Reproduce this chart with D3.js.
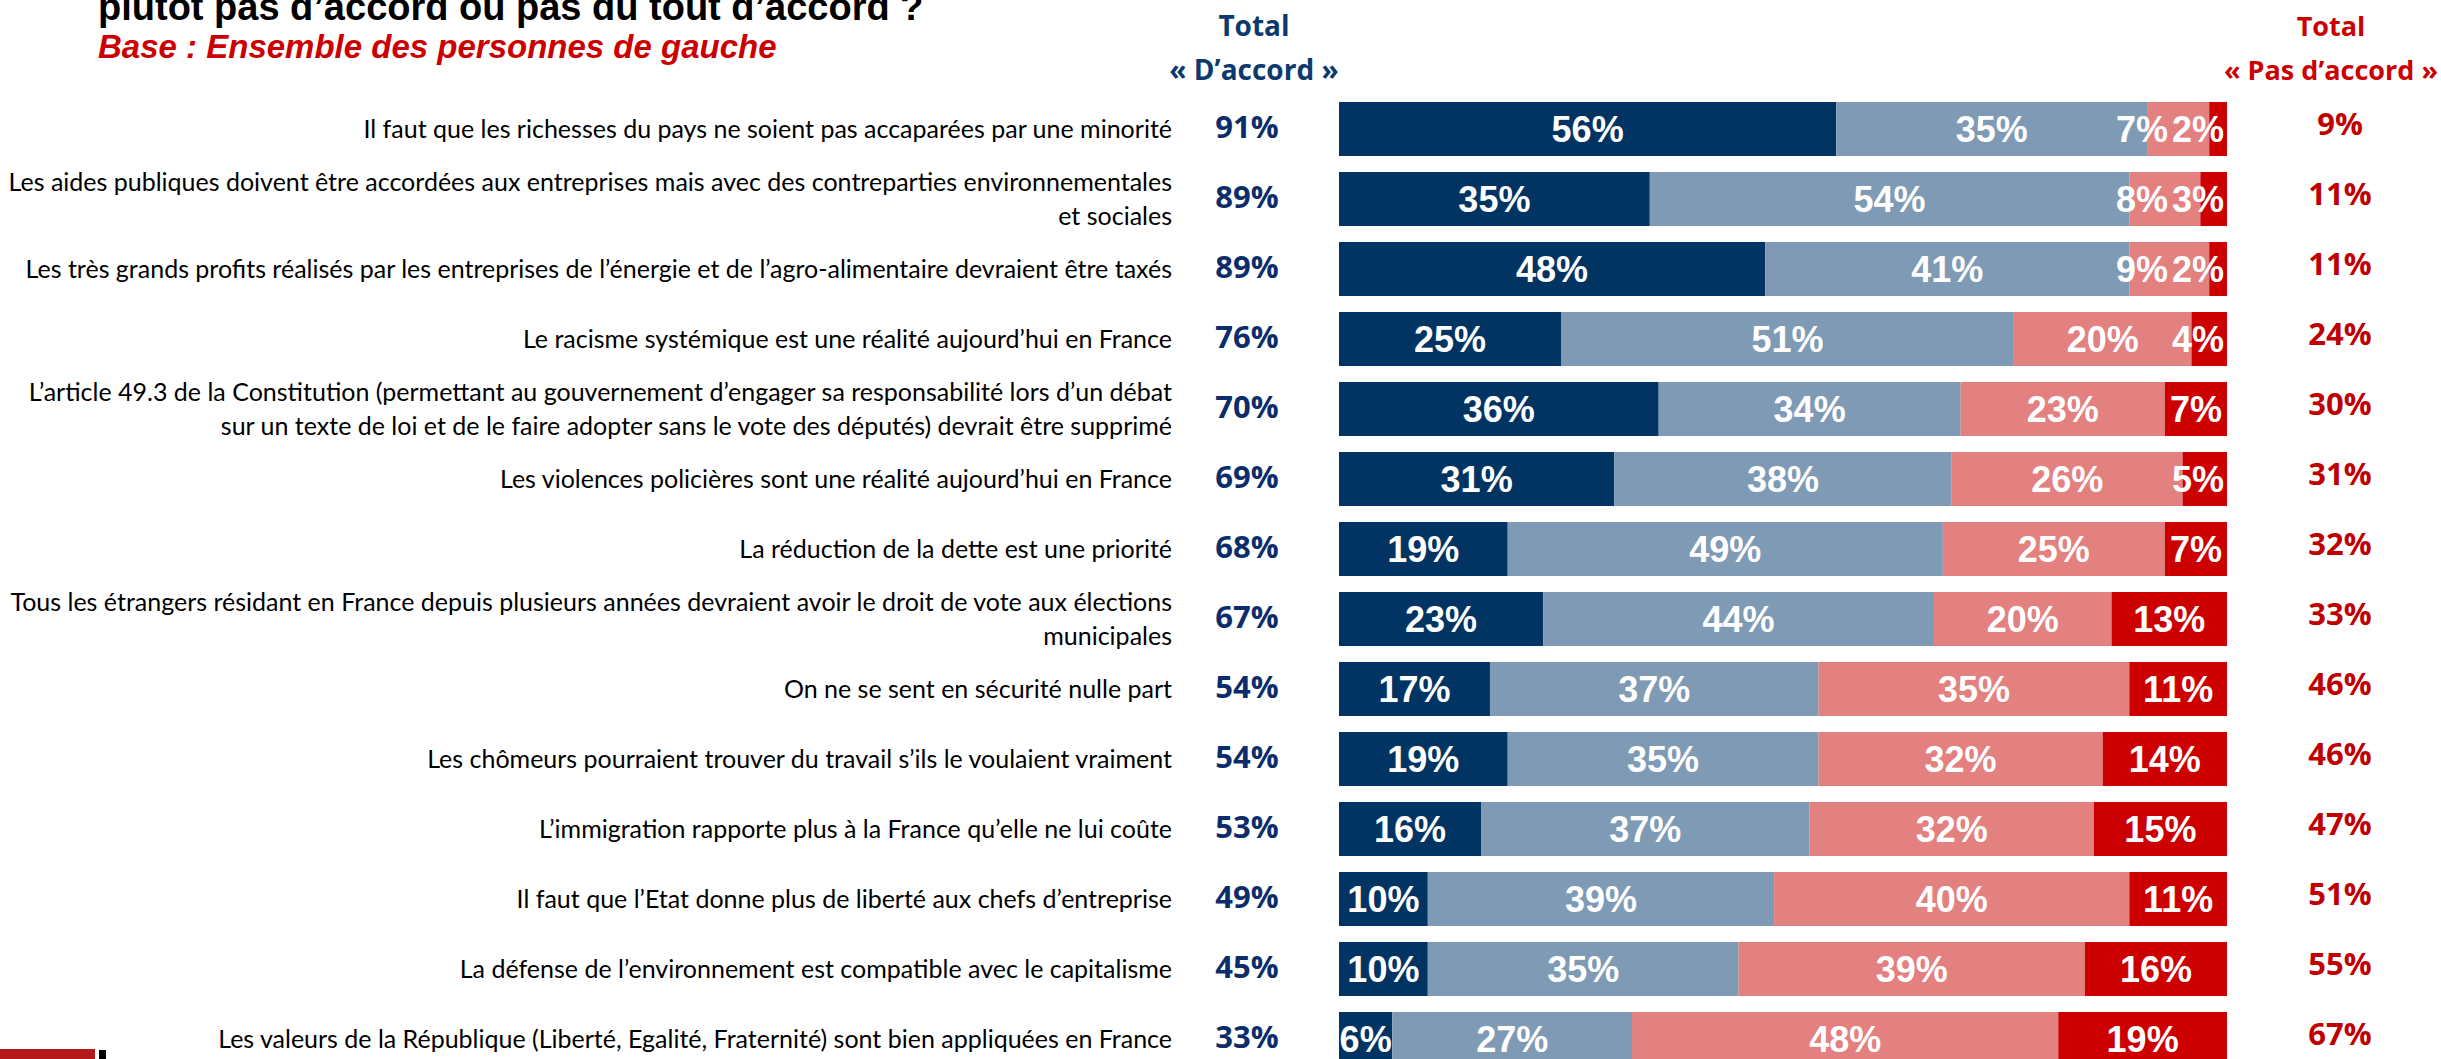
<!DOCTYPE html>
<html>
<head>
<meta charset="utf-8">
<script src="https://cdn.jsdelivr.net/npm/d3@7"></script>
<style>
  html, body { margin: 0; padding: 0; background: #ffffff; overflow: hidden; }
  svg { display: block; }
</style>
</head>
<body>
<svg id="chart" width="2441" height="1059"></svg>
<script>
// ---------- DATA ----------
const titleLine = "plutot pas d’accord ou pas du tout d’accord ?";
const baseLine = "Base : Ensemble des personnes de gauche";

const items = [
  ["Il faut que les richesses du pays ne soient pas accaparées par une minorité"],
  ["Les aides publiques doivent être accordées aux entreprises mais avec des contreparties environnementales", "et sociales"],
  ["Les très grands profits réalisés par les entreprises de l’énergie et de l’agro-alimentaire devraient être taxés"],
  ["Le racisme systémique est une réalité aujourd’hui en France"],
  ["L’article 49.3 de la Constitution (permettant au gouvernement d’engager sa responsabilité lors d’un débat", "sur un texte de loi et de le faire adopter sans le vote des députés) devrait être supprimé"],
  ["Les violences policières sont une réalité aujourd’hui en France"],
  ["La réduction de la dette est une priorité"],
  ["Tous les étrangers résidant en France depuis plusieurs années devraient avoir le droit de vote aux élections", "municipales"],
  ["On ne se sent en sécurité nulle part"],
  ["Les chômeurs pourraient trouver du travail s’ils le voulaient vraiment"],
  ["L’immigration rapporte plus à la France qu’elle ne lui coûte"],
  ["Il faut que l’Etat donne plus de liberté aux chefs d’entreprise"],
  ["La défense de l’environnement est compatible avec le capitalisme"],
  ["Les valeurs de la République (Liberté, Egalité, Fraternité) sont bien appliquées en France"]
];

const toutAFait   = [56, 35, 48, 25, 36, 31, 19, 23, 17, 19, 16, 10, 10, 6];
const plutotOui   = [35, 54, 41, 51, 34, 38, 49, 44, 37, 35, 37, 39, 35, 27];
const plutotPas   = [7, 8, 9, 20, 23, 26, 25, 20, 35, 32, 32, 40, 39, 48];
const pasDuTout   = [2, 3, 2, 4, 7, 5, 7, 13, 11, 14, 15, 11, 16, 19];
const totalAccord = [91, 89, 89, 76, 70, 69, 68, 67, 54, 54, 53, 49, 45, 33];
const totalPas    = [9, 11, 11, 24, 30, 31, 32, 33, 46, 46, 47, 51, 55, 67];

const seriesKeys = ["toutAFait", "plutotOui", "plutotPas", "pasDuTout"];
const seriesColors = ["#023463", "#7F9AB4", "#E38080", "#CC0000"];
const headerAccord = ["Total", "« D’accord »"];
const headerPas = ["Total", "« Pas d’accord »"];

// ---------- BUILD ----------
const rows = items.map((lines, i) => ({
  i, lines,
  toutAFait: toutAFait[i], plutotOui: plutotOui[i], plutotPas: plutotPas[i], pasDuTout: pasDuTout[i],
  tA: totalAccord[i], tP: totalPas[i]
}));

const svg = d3.select("#chart");

const x = d3.scaleLinear().domain([0, 100]).range([1339, 2227]);
const y = d3.scaleBand().domain(d3.range(rows.length)).range([102, 1066]).paddingInner(16 / 70).paddingOuter(0);
const color = d3.scaleOrdinal().domain(seriesKeys).range(seriesColors);

const stacked = d3.stack().keys(seriesKeys)(rows);

const arialFont = "'Liberation Sans', Arial, sans-serif";
const boldFont = "'Open Sans', 'Noto Sans', sans-serif";
const lblFont = "Lato, 'Open Sans', sans-serif";

// Title lines (top cut off like the reference)
svg.append("text")
  .attr("x", 98).attr("y", 20)
  .attr("font-family", arialFont)
  .attr("font-weight", "bold").attr("font-size", 38)
  .attr("fill", "#000").text(titleLine);

svg.append("text")
  .attr("x", 98).attr("y", 58)
  .attr("font-family", arialFont)
  .attr("font-weight", "bold").attr("font-style", "italic").attr("font-size", 33)
  .attr("fill", "#CC0000").text(baseLine);

// Headers
svg.append("g").selectAll("text").data(headerAccord).join("text")
  .attr("x", 1254).attr("y", (d, k) => 36 + k * 44)
  .attr("text-anchor", "middle")
  .attr("font-family", boldFont).attr("font-weight", "bold").attr("font-size", 28)
  .attr("fill", "#0B3A6E").text(d => d);

svg.append("g").selectAll("text").data(headerPas).join("text")
  .attr("x", 2331).attr("y", (d, k) => 36 + k * 44)
  .attr("text-anchor", "middle")
  .attr("font-family", boldFont).attr("font-weight", "bold").attr("font-size", 27)
  .attr("fill", "#CC0000").text(d => d);

// Bars
svg.append("g").selectAll("g").data(stacked).join("g")
  .attr("fill", d => color(d.key))
  .selectAll("rect").data(d => d).join("rect")
  .attr("x", d => x(d[0]))
  .attr("width", d => x(d[1]) - x(d[0]))
  .attr("y", (d, k) => y(k))
  .attr("height", y.bandwidth());

// Bar value labels with overlap avoidance at the right end
const gVals = svg.append("g")
  .attr("font-family", arialFont)
  .attr("font-weight", "bold").attr("font-size", 36).attr("fill", "#fff");

rows.forEach((r, k) => {
  const cy = y(k) + y.bandwidth() / 2;
  const labs = stacked.map(s => {
    const seg = s[k];
    const t = gVals.append("text")
      .attr("text-anchor", "middle")
      .attr("y", cy).attr("dy", "0.36em")
      .text(r[s.key] + "%");
    const w = t.node().getComputedTextLength();
    return { t, w, cx: (x(seg[0]) + x(seg[1])) / 2 };
  });
  const right = x(100) - 3;
  const last = labs[labs.length - 1];
  if (last.cx + last.w / 2 > right) last.cx = right - last.w / 2;
  for (let j = labs.length - 2; j >= 0; j--) {
    const a = labs[j], b = labs[j + 1];
    const bLeft = b.cx - b.w / 2 - 4;
    if (a.cx + a.w / 2 > bLeft) a.cx = bLeft - a.w / 2;
  }
  labs.forEach(l => l.t.attr("x", l.cx));
});

// Item labels
const gLbl = svg.append("g")
  .attr("font-family", lblFont).attr("font-size", 25).attr("fill", "#000");
rows.forEach((r, k) => {
  const cy = y(k) + y.bandwidth() / 2;
  const lh = 34;
  const n = r.lines.length;
  r.lines.forEach((line, j) => {
    gLbl.append("text")
      .attr("x", 1172).attr("text-anchor", "end")
      .attr("y", cy + (j - (n - 1) / 2) * lh).attr("dy", "0.35em")
      .text(line);
  });
});

// Totals
svg.append("g").selectAll("text").data(rows).join("text")
  .attr("x", 1247).attr("text-anchor", "middle")
  .attr("y", d => y(d.i) + y.bandwidth() / 2 - 2).attr("dy", "0.36em")
  .attr("font-family", boldFont).attr("font-weight", "bold").attr("font-size", 31)
  .attr("fill", "#0B2D6C").text(d => d.tA + "%");

svg.append("g").selectAll("text").data(rows).join("text")
  .attr("x", 2340).attr("text-anchor", "middle")
  .attr("y", d => y(d.i) + y.bandwidth() / 2 - 5).attr("dy", "0.36em")
  .attr("font-family", boldFont).attr("font-weight", "bold").attr("font-size", 31)
  .attr("fill", "#C00000").text(d => d.tP + "%");

// Footer marks (bottom-left)
svg.append("rect").attr("x", 0).attr("y", 1049).attr("width", 95).attr("height", 10).attr("fill", "#B5191C");
svg.append("rect").attr("x", 99).attr("y", 1050).attr("width", 7).attr("height", 9).attr("fill", "#000");
</script>
</body>
</html>
